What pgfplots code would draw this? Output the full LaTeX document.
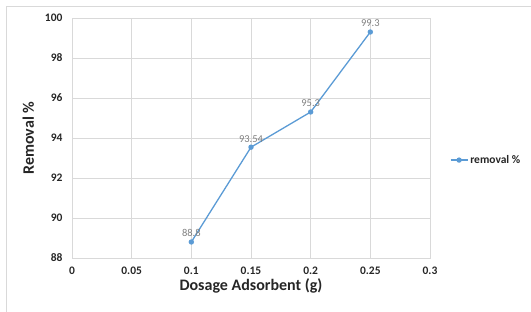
\documentclass[border=0pt]{standalone}
\usepackage{pgfplots}
\pgfplotsset{compat=1.18}
\usepackage{fontspec}
\setmainfont{Carlito}
\definecolor{series}{HTML}{5B9BD5}
\definecolor{gridc}{HTML}{D9D9D9}
\definecolor{lbl}{HTML}{7F7F7F}
\definecolor{txt}{HTML}{262626}
\begin{document}
\begin{tikzpicture}[x=1pt,y=1pt]
\useasboundingbox (0,0) rectangle (531,312);
\draw[gridc, line width=0.8pt] (6,0) -- (6,306) -- (531,306);
\begin{axis}[
  at={(72pt,54pt)}, anchor=south west,
  width=358pt, height=240pt, scale only axis,
  xmin=0, xmax=0.3, ymin=88, ymax=100,
  xtick={0,0.05,...,0.3}, ytick={88,90,...,100},
  xticklabels={0,0.05,0.1,0.15,0.2,0.25,0.3},
  grid=major, major grid style={gridc, line width=0.7pt},
  axis line style={gridc, line width=0.7pt},
  major tick length=0pt,
  tick label style={font=\bfseries\fontsize{11.5}{13}\selectfont, text=txt},
  /pgf/number format/assume math mode=true,
  xticklabel style={yshift=-5pt},
  yticklabel style={xshift=-6pt},
  xlabel={Dosage Adsorbent (g)}, ylabel={Removal \%},
  label style={font=\bfseries\fontsize{16}{18}\selectfont, text=txt},
  xlabel style={yshift=2pt},
  ylabel style={yshift=4pt},
  legend style={draw=none, at={(1.055,0.408)}, anchor=west,
    font=\bfseries\fontsize{11.5}{13}\selectfont, text=txt, fill=none,
    inner sep=0pt},
  legend cell align=left,
]
\addplot[series, line width=1.3pt, mark=*, mark size=2pt,
  nodes near coords, point meta=explicit symbolic,
  nodes near coords style={font=\fontsize{10.5}{12}\selectfont, text=lbl, yshift=1pt}]
  table[meta=lab] {
x y lab
0.1 88.8 88.8
0.15 93.54 93.54
0.2 95.3 95.3
0.25 99.3 99.3
};
\addlegendentry{removal \%}
\end{axis}
\end{tikzpicture}
\end{document}
